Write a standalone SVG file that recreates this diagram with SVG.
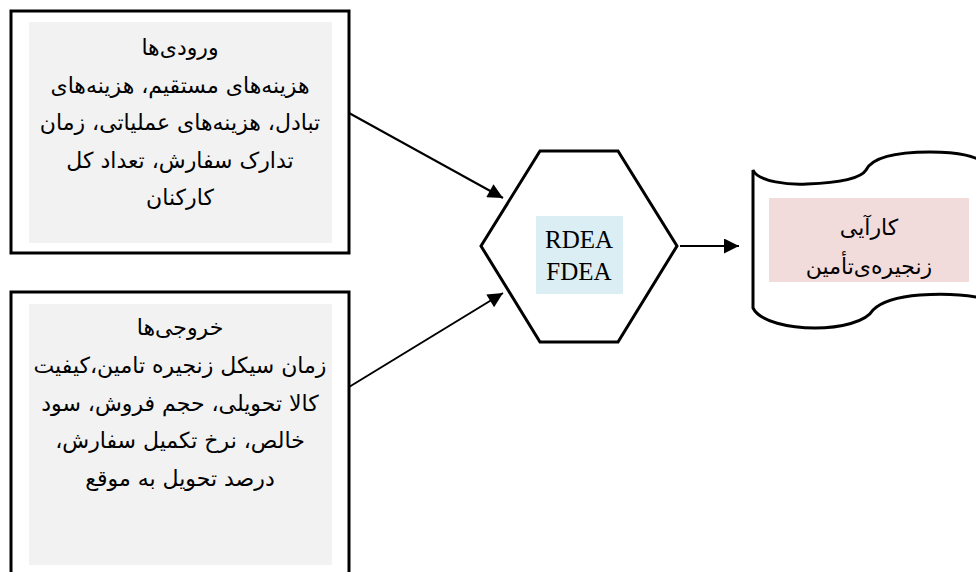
<svg xmlns="http://www.w3.org/2000/svg" width="976" height="572" viewBox="0 0 976 572">
<style>
.box{fill:#fff;stroke:#000;stroke-width:3}
.inner{fill:#f2f2f2}
.fa{font-family:"DejaVu Sans",sans-serif;font-size:22px;fill:#000;text-anchor:middle}
.en{font-family:"Liberation Serif",serif;font-size:25px;fill:#000;text-anchor:middle}
.line{stroke:#000;stroke-width:2;fill:none;marker-end:url(#ah)}
</style>
<defs>
<marker id="ah" viewBox="0 0 10 10" refX="10" refY="5" markerWidth="9" markerHeight="7.5" markerUnits="strokeWidth" orient="auto">
<path d="M0,0 L10,5 L0,10 z" fill="#000"/>
</marker>
</defs>
<rect width="976" height="572" fill="#fff"/>
<g id="inputs">
<rect class="box" x="11" y="11" width="338" height="242"/>
<rect class="inner" x="29" y="22" width="303" height="221"/>
<text class="fa" direction="rtl" x="180" y="55">ورودی‌ها</text>
<text class="fa" direction="rtl" x="180" y="93">هزینه‌های مستقیم، هزینه‌های</text>
<text class="fa" direction="rtl" x="180" y="130">تبادل، هزینه‌های عملیاتی، زمان</text>
<text class="fa" direction="rtl" x="180" y="168">تدارک سفارش، تعداد کل</text>
<text class="fa" direction="rtl" x="180" y="205">کارکنان</text>
</g>
<g id="outputs">
<rect class="box" x="11" y="292" width="338" height="300"/>
<rect class="inner" x="29" y="304" width="303" height="261"/>
<text class="fa" direction="rtl" x="180" y="335">خروجی‌ها</text>
<text class="fa" direction="rtl" x="180" y="373">زمان سیکل زنجیره تامین،کیفیت</text>
<text class="fa" direction="rtl" x="180" y="411">کالا تحویلی، حجم فروش، سود</text>
<text class="fa" direction="rtl" x="180" y="448">خالص، نرخ تکمیل سفارش،</text>
<text class="fa" direction="rtl" x="180" y="486">درصد تحویل به موقع</text>
</g>
<g id="model">
<polygon points="481,246 540,151 618,151 677,246 618,342 540,342" fill="#fff" stroke="#000" stroke-width="3"/>
<rect x="536" y="216" width="87" height="78" fill="#dbeef3"/>
<text class="en" x="579" y="248">RDEA</text>
<text class="en" x="579" y="280">FDEA</text>
</g>
<g id="performance">
<path d="M753,170 C758,182 790,185 807,184 C835,183 860,180 866,170 C872,158 895,152 930,152 C960,152 975,156 990,165 L990,300 C975,296 950,293 920,295 C895,297 880,303 873,310 C866,322 840,328 815,328 C790,328 760,322 753,308 Z" fill="#fff" stroke="#000" stroke-width="3"/>
<rect x="769" y="198" width="200" height="84" fill="#f2dcdb"/>
<text class="fa" direction="rtl" x="869" y="235">کارآیی</text>
<text class="fa" direction="rtl" x="869" y="274">زنجیره‌ی‌تأمین</text>
</g>
<g id="connectors">
<line class="line" x1="349" y1="113" x2="503" y2="198"/>
<line class="line" x1="349" y1="387" x2="503" y2="293"/>
<line class="line" x1="680" y1="246" x2="739" y2="246"/>
</g>
</svg>
